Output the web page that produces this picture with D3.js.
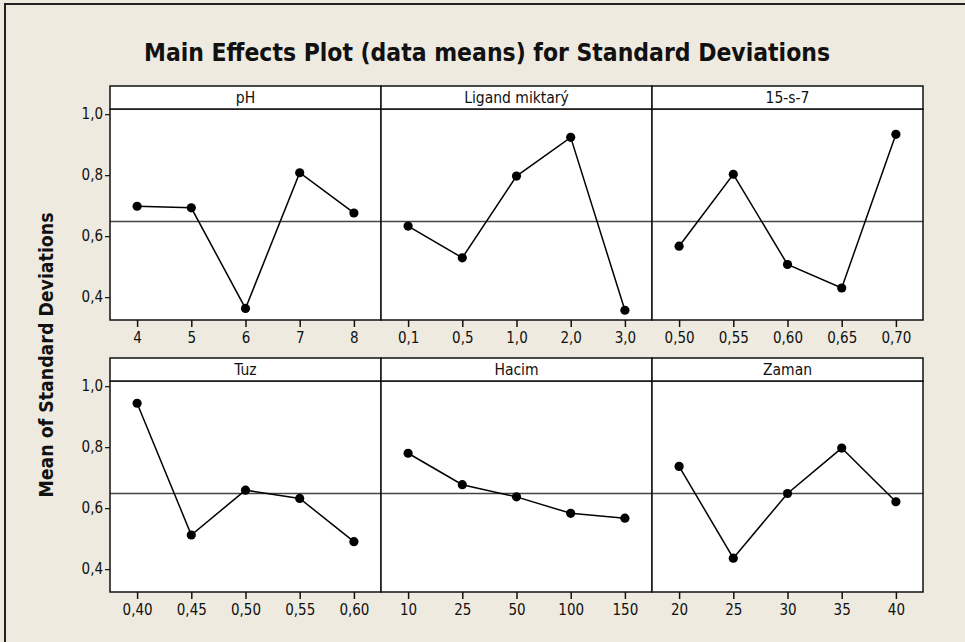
<!DOCTYPE html>
<html>
<head>
<meta charset="utf-8">
<script src="https://cdn.jsdelivr.net/npm/d3@7"></script>
<style>
  html, body { margin: 0; padding: 0; background: #eeeae0; }
  svg { display: block; }
  text { font-family: "DejaVu Sans Condensed", "DejaVu Sans", Verdana, sans-serif; fill: #111; }
</style>
</head>
<body>
<svg width="965" height="642"></svg>
<script>
// factor names (panel headers)
const factors = ["pH", "Ligand miktarý", "15-s-7", "Tuz", "Hacim", "Zaman"];

// levels for each factor, as printed on the x axes
const phLevels     = ["4", "5", "6", "7", "8"];
const ligandLevels = ["0,1", "0,5", "1,0", "2,0", "3,0"];
const s157Levels   = ["0,50", "0,55", "0,60", "0,65", "0,70"];
const tuzLevels    = ["0,40", "0,45", "0,50", "0,55", "0,60"];
const hacimLevels  = ["10", "25", "50", "100", "150"];
const zamanLevels  = ["20", "25", "30", "35", "40"];

// mean of standard deviations at each level
const phMeans     = [0.698, 0.693, 0.363, 0.808, 0.676];
const ligandMeans = [0.633, 0.529, 0.797, 0.924, 0.357];
const s157Means   = [0.567, 0.803, 0.507, 0.430, 0.934];
const tuzMeans    = [0.944, 0.512, 0.659, 0.632, 0.490];
const hacimMeans  = [0.780, 0.677, 0.637, 0.583, 0.567];
const zamanMeans  = [0.737, 0.436, 0.648, 0.797, 0.621];

const grandMean = 0.648;
const yTicks = [0.4, 0.6, 0.8, 1.0];

const panels = [
  {name: factors[0], levels: phLevels,     means: phMeans},
  {name: factors[1], levels: ligandLevels, means: ligandMeans},
  {name: factors[2], levels: s157Levels,   means: s157Means},
  {name: factors[3], levels: tuzLevels,    means: tuzMeans},
  {name: factors[4], levels: hacimLevels,  means: hacimMeans},
  {name: factors[5], levels: zamanLevels,  means: zamanMeans}
];

function draw() {
    let svg = d3.select("svg");
    const font = "DejaVu Sans Condensed, DejaVu Sans, sans-serif";

    // outer frame
    svg.append("rect")
        .attr("x", 5).attr("y", 4)
        .attr("width", 965).attr("height", 650)
        .attr("fill", "#eeeae0")
        .attr("stroke", "#222")
        .attr("stroke-width", 2);

    svg.append("text")
        .attr("x", 487).attr("y", 61)
        .attr("text-anchor", "middle")
        .attr("font-size", 24)
        .attr("font-weight", "bold")
        .attr("textLength", 686)
        .attr("lengthAdjust", "spacingAndGlyphs")
        .text("Main Effects Plot (data means) for Standard Deviations");

    svg.append("text")
        .attr("transform", "translate(53,355) rotate(-90)")
        .attr("text-anchor", "middle")
        .attr("font-size", 20)
        .attr("font-weight", "bold")
        .attr("textLength", 285)
        .attr("lengthAdjust", "spacingAndGlyphs")
        .text("Mean of Standard Deviations");

    const left = 110, panelW = 271, headerH = 23;
    const rowTop = [86, 358];
    const plotH = 211;

    const y = d3.scaleLinear().domain([0.325, 1.017]).range([plotH, 0]);
    const fmt = d => d3.format(".1f")(d).replace(".", ",");

    panels.forEach((p, i) => {
        let col = i % 3, row = Math.floor(i / 3);
        let g = svg.append("g")
            .attr("transform", `translate(${left + col * panelW},${rowTop[row] + headerH})`);

        let x = d3.scalePoint().domain(p.levels).range([0, panelW]).padding(0.5);

        // header strip
        svg.append("rect")
            .attr("x", left + col * panelW).attr("y", rowTop[row])
            .attr("width", panelW).attr("height", headerH)
            .attr("fill", "white").attr("stroke", "#111").attr("stroke-width", 1.5);
        svg.append("text")
            .attr("x", left + col * panelW + panelW / 2)
            .attr("y", rowTop[row] + 17)
            .attr("text-anchor", "middle")
            .attr("font-size", 15.5)
            .text(p.name);

        g.append("rect")
            .attr("width", panelW).attr("height", plotH)
            .attr("fill", "white");

        g.append("line")
            .attr("x1", 0).attr("x2", panelW)
            .attr("y1", y(grandMean)).attr("y2", y(grandMean))
            .attr("stroke", "#444").attr("stroke-width", 1.3);

        g.append("path")
            .datum(p.means)
            .attr("fill", "none")
            .attr("stroke", "black")
            .attr("stroke-width", 1.5)
            .attr("d", d3.line()
                .x((d, k) => x(p.levels[k]))
                .y(d => y(d)));

        g.selectAll(".dot")
            .data(p.means)
            .enter()
            .append("circle")
            .attr("class", "dot")
            .attr("cx", (d, k) => x(p.levels[k]))
            .attr("cy", d => y(d))
            .attr("r", 4.6)
            .attr("fill", "black");

        g.append("rect")
            .attr("width", panelW).attr("height", plotH)
            .attr("fill", "none").attr("stroke", "#111").attr("stroke-width", 1.5);

        let xa = g.append("g")
            .attr("transform", `translate(0,${plotH})`)
            .call(d3.axisBottom(x).tickSize(7).tickPadding(5));
        xa.select(".domain").remove();
        xa.selectAll("line").attr("stroke", "#111").attr("stroke-width", 1.5);
        xa.selectAll("text").attr("font-size", 15).attr("font-family", font).attr("fill", "#111");

        if (col == 0) {
            let ya = g.append("g")
                .call(d3.axisLeft(y).tickValues(yTicks).tickFormat(fmt).tickSize(5).tickPadding(2));
            ya.select(".domain").remove();
            ya.selectAll("line").attr("stroke", "#111").attr("stroke-width", 1.2);
            ya.selectAll("text").attr("font-size", 15).attr("font-family", font).attr("fill", "#111");
        }
    });
}

draw();
</script>
</body>
</html>
